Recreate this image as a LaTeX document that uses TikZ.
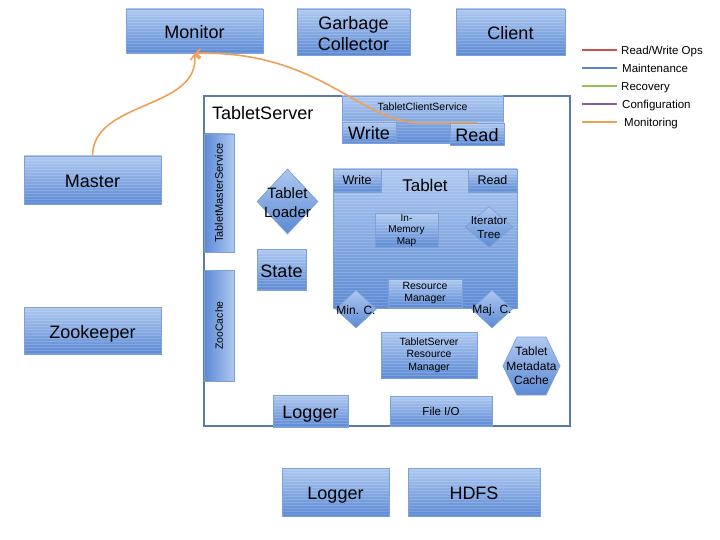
\documentclass[tikz,border=0pt]{standalone}
\usepackage{fontspec}
\setmainfont{Liberation Sans}
\usetikzlibrary{shapes.geometric,arrows.meta}
\definecolor{boxtop}{RGB}{174,200,240}
\definecolor{boxbot}{RGB}{92,138,212}
\definecolor{boxline}{RGB}{125,160,214}
\definecolor{srvline}{RGB}{88,124,170}
\definecolor{lgred}{RGB}{208,80,74}
\definecolor{lgblue}{RGB}{88,134,200}
\definecolor{lggreen}{RGB}{150,192,80}
\definecolor{lgpurple}{RGB}{128,98,160}
\definecolor{lgorange}{RGB}{240,160,84}
\begin{document}
\begin{tikzpicture}[x=1pt,y=-1pt,
  hstripes/.style={path picture={\foreach \k in {1.5,4.5,...,160}{\draw[white,opacity=0.16,line width=0.9pt] ([yshift=-\k pt]path picture bounding box.north west) -- ([yshift=-\k pt]path picture bounding box.north east);}}},
  box/.style={draw=boxline, line width=0.7pt, top color=boxtop, bottom color=boxbot, inner sep=0pt, align=center, text=black, hstripes},
  vbox/.style={draw=boxline, line width=0.7pt, left color=boxbot, right color=boxtop, inner sep=0pt},
  dbox/.style={diamond, draw=boxline, line width=0.7pt, top color=boxtop, bottom color=boxbot, inner sep=0pt},
  txt/.style={inner sep=0pt, align=center, text=black},
  big/.style={font=\fontsize{18}{21}\selectfont},
  bigone/.style={font=\fontsize{18}{21}\selectfont, text height=17pt, text depth=2pt},
  mid/.style={font=\fontsize{15}{19}\selectfont},
  tiny/.style={font=\fontsize{10.5}{12.5}\selectfont},
  mon/.style={draw=lgorange, line width=1.6pt, -{Straight Barb[length=5pt,width=9pt]}},
  lg/.style={line width=1.5pt},
  lgt/.style={anchor=west, inner sep=0pt, text height=8.2pt, text depth=0pt, font=\fontsize{11.5}{13}\selectfont}
]
\useasboundingbox (0,0) rectangle (720,540);

% top row
\node[box,bigone,minimum width=137pt,minimum height=44pt] (monitor) at (194.5,31) {Monitor};
\node[box,minimum width=113pt,minimum height=46pt] (gc) at (353.5,32) {};
\node[txt,big] (gclabel) at (353.5,33.5) {Garbage\\Collector};
\node[box,bigone,minimum width=109pt,minimum height=46pt] (client) at (510.5,32) {Client};

% left column
\node[box,bigone,minimum width=137pt,minimum height=48pt] (master) at (92.5,180) {Master};
\node[box,bigone,minimum width=137pt,minimum height=47pt] (zk) at (92.5,330.5) {Zookeeper};

% bottom
\node[box,bigone,minimum width=107pt,minimum height=48pt] (logger2) at (335.5,492) {Logger};
\node[box,bigone,minimum width=132pt,minimum height=48pt] (hdfs) at (474,492) {HDFS};

% tablet server frame
\node[draw=srvline, line width=1.5pt, fill=white, minimum width=366pt, minimum height=330pt, inner sep=0pt] (ts) at (387,261) {};
\node[txt,bigone,anchor=west] (tslabel) at (212,112) {TabletServer};

% tablet client service
\node[box,minimum width=161pt,minimum height=47pt] (tcs) at (422.5,119.5) {};
\node[txt,font=\fontsize{10.5}{12}\selectfont] (tcslabel) at (422.5,107) {TabletClientService};
\node[box,bigone,minimum width=54pt,minimum height=21pt] (tcswrite) at (369,132.5) {Write};
\node[box,bigone,minimum width=54pt,minimum height=22pt] (tcsread) at (477,134) {Read};

% vertical services
\node[vbox,minimum width=30pt,minimum height=118pt] (tms) at (219,193) {};
\node[txt,rotate=90,font=\fontsize{11}{13}\selectfont] (tmslabel) at (219,193) {TabletMasterService};
\node[vbox,minimum width=30pt,minimum height=111pt] (zc) at (219,325.5) {};
\node[txt,rotate=90,font=\fontsize{10.5}{13}\selectfont] (zclabel) at (219,325.5) {ZooCache};

% tablet loader and state
\node[dbox,minimum width=61pt,minimum height=65pt] (tl) at (287.5,201.5) {};
\node[txt,mid] (tllabel) at (287.5,202.5) {Tablet\\Loader};
\node[box,bigone,minimum width=49pt,minimum height=41pt] (state) at (281.5,269.5) {State};

% tablet
\node[box,minimum width=184pt,minimum height=139pt] (tablet) at (425,238.5) {};
\node[txt,font=\fontsize{17}{20}\selectfont] (tabletlabel) at (425,185) {Tablet};
\node[box,font=\fontsize{12.5}{14}\selectfont,minimum width=48pt,minimum height=23pt] (twrite) at (357,180.5) {Write};
\node[box,font=\fontsize{12.5}{14}\selectfont,minimum width=49pt,minimum height=23pt] (tread) at (492.5,180.5) {Read};
\node[box,font=\fontsize{10}{11.7}\selectfont,minimum width=63pt,minimum height=34pt] (imm) at (406.5,230.5) {In-\\Memory\\Map};
\node[dbox,minimum width=48pt,minimum height=41pt] (it) at (489,227) {};
\node[txt,font=\fontsize{11.5}{13.5}\selectfont] (itlabel) at (489,227.5) {Iterator\\Tree};
\node[box,tiny,minimum width=74pt,minimum height=28pt] (rm) at (425,293) {Resource\\Manager};
\node[dbox,minimum width=41pt,minimum height=38pt] (minc) at (356,309) {};
\node[txt,font=\fontsize{12}{14}\selectfont] (minclabel) at (356,310) {Min. C.};
\node[dbox,minimum width=41pt,minimum height=38pt] (majc) at (492,309) {};
\node[txt,font=\fontsize{12}{14}\selectfont] (majclabel) at (492,310) {Maj. C.};

% lower inner parts
\node[box,tiny,minimum width=96pt,minimum height=46pt] (tsrm) at (429,355) {TabletServer\\Resource\\Manager};
\path[draw=boxline, line width=0.7pt, top color=boxtop, bottom color=boxbot]
  (503,366) -- (517,337) -- (546,337) -- (560,366) -- (546,395) -- (517,395) -- cycle;
\node[txt,font=\fontsize{12}{14.5}\selectfont] (tmc) at (531.5,366) {Tablet\\Metadata\\Cache};
\node[box,bigone,minimum width=75pt,minimum height=32pt] (logger1) at (310.5,411) {Logger};
\node[box,font=\fontsize{11.5}{13}\selectfont,minimum width=102pt,minimum height=30pt] (fio) at (441,411) {File I/O};

% monitoring connectors
\draw[mon] (master.north) .. controls (93,100) and (200,110) .. (monitor.south);
\draw[mon] (tcsread.north) -- ++(-57,0) .. controls (360,123) and (320,50) .. (monitor.south);

% legend
\coordinate (l1a) at (582,50); \coordinate (l1b) at (617,50);
\coordinate (l2a) at (582,68); \coordinate (l2b) at (617,68);
\coordinate (l3a) at (582,86); \coordinate (l3b) at (617,86);
\coordinate (l4a) at (582,104); \coordinate (l4b) at (617,104);
\coordinate (l5a) at (582,122); \coordinate (l5b) at (617,122);
\draw[lg,lgred] (l1a) -- (l1b);
\draw[lg,lgblue] (l2a) -- (l2b);
\draw[lg,lggreen] (l3a) -- (l3b);
\draw[lg,lgpurple] (l4a) -- (l4b);
\draw[lg,lgorange] (l5a) -- (l5b);
\node[lgt] (t1) at (621,50) {Read/Write Ops};
\node[lgt] (t2) at (622,68) {Maintenance};
\node[lgt] (t3) at (621,86) {Recovery};
\node[lgt] (t4) at (622,104) {Configuration};
\node[lgt] (t5) at (624,122) {Monitoring};
\end{tikzpicture}
\end{document}
